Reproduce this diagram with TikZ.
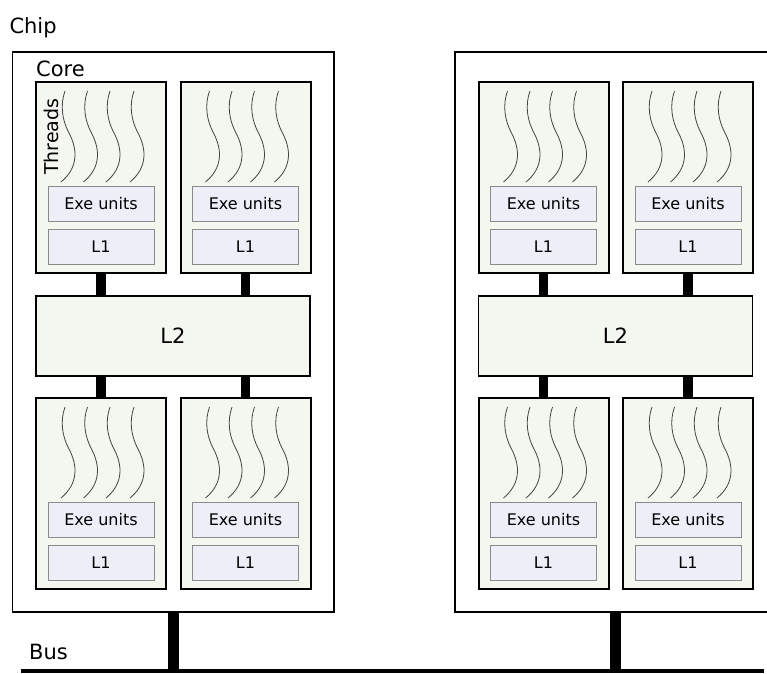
\documentclass[tikz,border=0pt]{standalone}
\usepackage{fontspec}
\setmainfont{DejaVu Sans}
\definecolor{coreFill}{HTML}{F4F6F0}
\definecolor{unitFill}{HTML}{ECEEF8}
\definecolor{unitLine}{HTML}{8A8A8A}
\definecolor{threadCol}{HTML}{444444}
\tikzset{
 chipbox/.style={draw=black, line width=1.5pt, fill=white, minimum width=321.5pt, minimum height=560pt, inner sep=0pt, outer sep=0pt},
 corebox/.style={draw=black, line width=2pt, fill=coreFill, minimum width=130pt, minimum height=191pt, inner sep=0pt, outer sep=0pt},
 unitbox/.style={draw=unitLine, line width=1pt, fill=unitFill, minimum width=106pt, minimum height=35pt, inner sep=0pt, font=\fontsize{16}{19}\selectfont},
 l2box/.style={draw=black, line width=1.7pt, fill=coreFill, minimum width=274pt, minimum height=80pt, inner sep=0pt, outer sep=0pt, font=\fontsize{21}{25}\selectfont},
 bar/.style={line width=9.5pt},
 drop/.style={line width=11pt},
 busline/.style={line width=4pt},
 thread/.style={draw=threadCol, line width=0.8pt},
 lbl/.style={anchor=base west, inner sep=0pt, font=\fontsize{21}{25}\selectfont},
 core/.pic={
   \node[corebox] (-box) at (0,0) {};
   \node[unitbox] (-exe) at (0,26) {Exe units};
   \node[unitbox] (-l1) at (0,69.5) {L1};
   \foreach \dx in {29,51.5,74,98} {
     \draw[thread, shift={(\dx-65,-86.5)}] (0,0) .. controls (-5,14) and (-3,29) .. (4,42) .. controls (13,59) and (13,77) .. (-4,91);
   }
 }
}
\begin{document}
\begin{tikzpicture}[x=1pt,y=-1pt]
\useasboundingbox (0,0) rectangle (767,673);
% labels
\node[lbl] (chiplbl) at (9.3,33.3) {Chip};
\node[lbl] (buslbl) at (29,659) {Bus};
% chips
\node[chipbox] (chipA) at (173.25,332) {};
\node[chipbox] (chipB) at (615.75,332) {};
\node[lbl] (corelbl) at (36,76) {Core};
% bus
\coordinate (busL) at (21,671);
\coordinate (busR) at (764,671);
\draw[busline] (busL) -- (busR);
\draw[drop] (chipA.south) -- (chipA.south |- busL);
\draw[drop] (chipB.south) -- (chipB.south |- busL);
% left chip
\pic (a11) at (101,177.5) {core};
\pic (a12) at (245.5,177.5) {core};
\pic (a21) at (101,493.5) {core};
\pic (a22) at (245.5,493.5) {core};
\node[l2box] (l2a) at (173,336) {L2};
\node[rotate=90, anchor=base west, inner sep=0pt, font=\fontsize{19}{22}\selectfont] (thrlbl) at (58,175) {Threads};
% right chip
\pic (b11) at (543.5,177.5) {core};
\pic (b12) at (688,177.5) {core};
\pic (b21) at (543.5,493.5) {core};
\pic (b22) at (688,493.5) {core};
\node[l2box] (l2b) at (615.5,336) {L2};
% bars
\foreach \c in {a11,a12,b11,b12} {
  \draw[bar] (\c-box.south) -- (\c-box.south |- l2a.north);
}
\foreach \c in {a21,a22,b21,b22} {
  \draw[bar] (\c-box.north) -- (\c-box.north |- l2a.south);
}
\end{tikzpicture}
\end{document}
